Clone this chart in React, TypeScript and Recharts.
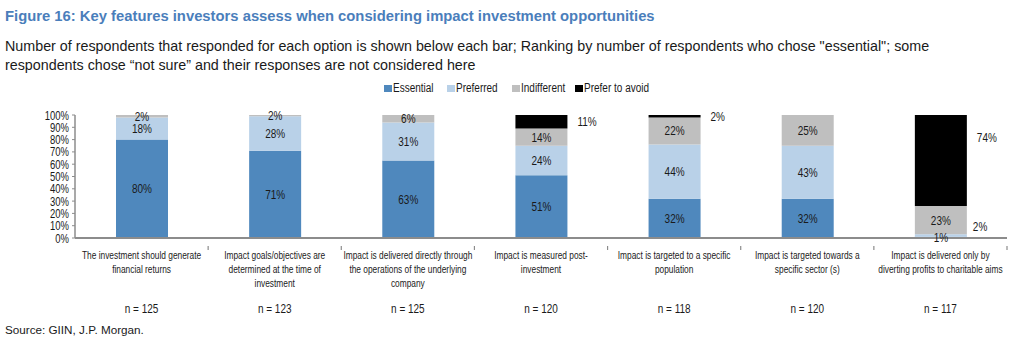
import React from 'react';
import { BarChart, Bar, XAxis, YAxis, LabelList } from 'recharts';

const categories = [
  'The investment should generate\nfinancial returns',
  'Impact goals/objectives are\ndetermined at the time of\ninvestment',
  'Impact is delivered directly through\nthe operations of the underlying\ncompany',
  'Impact is measured post-\ninvestment',
  'Impact is targeted to a specific\npopulation',
  'Impact is targeted towards a\nspecific sector (s)',
  'Impact is delivered only by\ndiverting profits to charitable aims',
];
const nRespondents = [125, 123, 125, 120, 118, 120, 117];
const essential = [80, 71, 63, 51, 32, 32, 1];
const preferred = [18, 28, 31, 24, 44, 43, 2];
const indifferent = [2, 2, 6, 14, 22, 25, 23];
const preferToAvoid = [0, 0, 0, 11, 2, 0, 74];
const yTicks = [0, 10, 20, 30, 40, 50, 60, 70, 80, 90, 100];

const seriesNames = ['Essential', 'Preferred', 'Indifferent', 'Prefer to avoid'];
const seriesKeys = ['essential', 'preferred', 'indifferent', 'avoid'];
const seriesColors = ['#4F88BD', '#B9D1E8', '#BFBFBF', '#000000'];

const data = categories.map((c, i) => ({
  cat: c,
  n: nRespondents[i],
  essential: essential[i],
  preferred: preferred[i],
  indifferent: indifferent[i],
  avoid: preferToAvoid[i],
}));

const SANS = '"Liberation Sans", Arial, sans-serif';
const INK = '#1a1a1a';

const W = 1024;
const H = 354;
const M = { top: 115, right: 17, left: 0, bottom: 16 };
const YW = 75;
const XH = 100;
const PLOT_W = W - M.left - M.right - YW;
const BAND = PLOT_W / categories.length;

// condensed text (emulates Arial Narrow) by horizontal scaling
const NText = (p: any) => {
  const { x, y, anchor = 'middle', size = 12, sx = 0.8, children, baseline } = p;
  return (
    <text
      transform={`translate(${x} ${y}) scale(${sx} 1)`}
      x={0}
      y={0}
      textAnchor={anchor}
      dominantBaseline={baseline}
      fontFamily={SANS}
      fontSize={size}
      fill={INK}
    >
      {children}
    </text>
  );
};

const YTick = (props: any) => {
  const { x, y, payload } = props;
  return (
    <NText x={x} y={y} anchor="end" size={12.5} sx={0.76} baseline="central">
      {payload.value + '%'}
    </NText>
  );
};

const CategoryTick = (props: any) => {
  const { x, y, payload, index } = props;
  const lines = String(payload.value).split('\n');
  const half = BAND / 2;
  return (
    <g>
      <line x1={x + half} x2={x + half} y1={y} y2={y + 4} stroke="#8c8c8c" strokeWidth={1.2} />
      {lines.map((l, i) => (
        <NText key={i} x={x} y={y + 13 + i * 14} size={11} sx={0.76}>{l}</NText>
      ))}
      <NText x={x} y={y + 67} size={12.5} sx={0.8}>{'n = ' + nRespondents[index]}</NText>
    </g>
  );
};

const makeLabel = (key: string) => (props: any) => {
  const { x, y, width, height, value } = props;
  if (!value) return null;
  let tx = x + width / 2;
  let ty = y + height / 2;
  let anchor = 'middle';
  if (key === 'preferred' && value < 5) {
    tx = x + width + 6;
    ty = y + height / 2 - 9;
    anchor = 'start';
  }
  if (key === 'avoid') {
    tx = x + width + 10;
    ty = y + Math.min(height / 2, 23);
    anchor = 'start';
  }
  return (
    <NText x={tx} y={ty} anchor={anchor} size={12.5} sx={0.8} baseline="central">
      {value + '%'}
    </NText>
  );
};

const legendWidths = [63, 65, 63, 80];

export default function App() {
  return (
    <div style={{ position: 'absolute', left: 0, top: 0, width: W, height: H, background: '#fff', overflow: 'hidden' }}>
      <div style={{ position: 'absolute', left: 5, top: 8, fontFamily: SANS, fontWeight: 'bold', fontSize: 14.8, color: '#4A7EBB', whiteSpace: 'nowrap' }}>
        Figure 16: Key features investors assess when considering impact investment opportunities
      </div>
      <div style={{ position: 'absolute', left: 5, top: 37, fontFamily: SANS, fontSize: 14.3, lineHeight: '19px', color: INK, whiteSpace: 'nowrap' }}>
        Number of respondents that responded for each option is shown below each bar; Ranking by number of respondents who chose "essential"; some
        <br />
        respondents chose “not sure” and their responses are not considered here
      </div>
      <div style={{ position: 'absolute', left: 384, top: 80, display: 'flex', fontFamily: SANS, fontSize: 12.5, color: INK, whiteSpace: 'nowrap' }}>
        {seriesNames.map((s, i) => (
          <div key={s} style={{ display: 'flex', alignItems: 'center', width: legendWidths[i], height: 16 }}>
            <div style={{ width: 8, height: 7, background: seriesColors[i], marginRight: 1, flex: 'none' }} />
            <span style={{ display: 'inline-block', transform: 'scaleX(0.8)', transformOrigin: 'left center' }}>{s}</span>
          </div>
        ))}
      </div>
      <BarChart width={W} height={H} data={data} margin={M} barSize={52} style={{ position: 'absolute', left: 0, top: 0 }}>
        <YAxis
          width={YW}
          domain={[0, 100]}
          ticks={yTicks}
          allowDataOverflow
          interval={0}
          axisLine={{ stroke: '#8c8c8c', strokeWidth: 1.5 }}
          tickLine={{ stroke: '#8c8c8c' }}
          tickSize={3}
          tickMargin={3}
          tick={<YTick />}
        />
        <XAxis
          dataKey="cat"
          height={XH}
          interval={0}
          tickLine={false}
          axisLine={{ stroke: '#8c8c8c', strokeWidth: 2 }}
          tick={<CategoryTick />}
        />
        {seriesKeys.map((k, i) => (
          <Bar key={k} dataKey={k} stackId="a" fill={seriesColors[i]} isAnimationActive={false}>
            <LabelList dataKey={k} content={makeLabel(k)} />
          </Bar>
        ))}
      </BarChart>
      <div style={{ position: 'absolute', left: 5, top: 323, fontFamily: SANS, fontSize: 11.7, color: INK, whiteSpace: 'nowrap' }}>
        Source: GIIN, J.P. Morgan.
      </div>
    </div>
  );
}
